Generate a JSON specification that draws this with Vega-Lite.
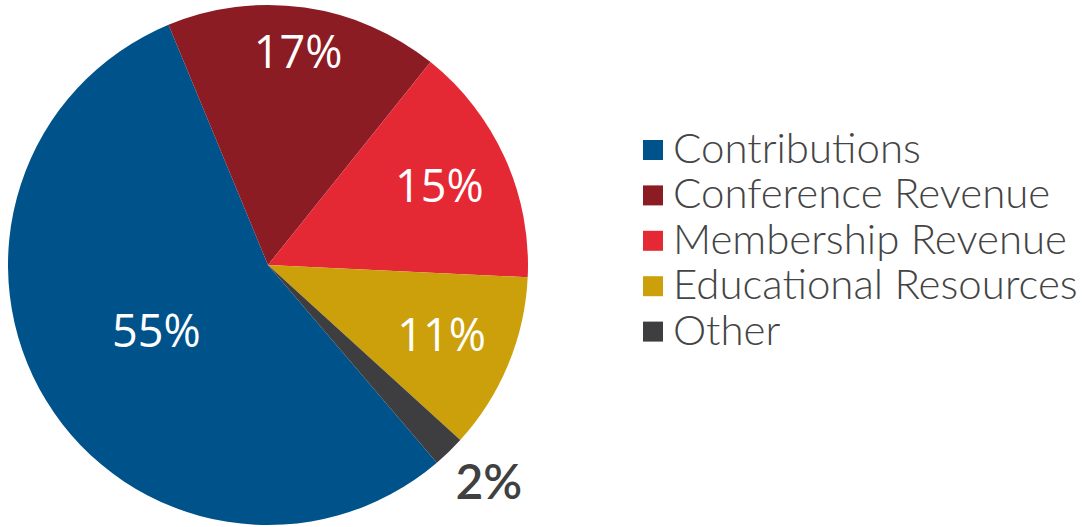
{
  "$schema": "https://vega.github.io/schema/vega-lite/v6.json",
  "width": 536,
  "height": 530,
  "padding": 0,
  "background": "white",
  "data": {
    "values": [
      {"category": "Contributions", "pct": 0.55, "rank": 1},
      {"category": "Conference Revenue", "pct": 0.17, "rank": 2},
      {"category": "Membership Revenue", "pct": 0.15, "rank": 3},
      {"category": "Educational Resources", "pct": 0.11, "rank": 4},
      {"category": "Other", "pct": 0.02, "rank": 5}
    ]
  },
  "encoding": {
    "theta": {"field": "pct", "type": "quantitative", "stack": true, "scale": {"range": [2.4347, 8.7179]}},
    "order": {"field": "rank", "type": "quantitative"}
  },
  "layer": [
    {
      "mark": {"type": "arc", "radius": 260, "stroke": null, "strokeWidth": 0},
      "encoding": {
        "color": {
          "field": "category",
          "type": "nominal",
          "sort": ["Contributions", "Conference Revenue", "Membership Revenue", "Educational Resources", "Other"],
          "scale": {
            "domain": ["Contributions", "Conference Revenue", "Membership Revenue", "Educational Resources", "Other"],
            "range": ["#00538a", "#8b1c24", "#e52934", "#cca00b", "#3e3e40"]
          },
          "legend": {
            "title": null,
            "orient": "none",
            "legendX": 632,
            "legendY": 129,
            "padding": 0,
            "symbolType": "square",
            "symbolSize": 400,
            "symbolStrokeWidth": 0,
            "symbolOpacity": 1,
            "labelFont": "Lato",
            "labelFontWeight": 300,
            "labelFontSize": 42,
            "labelColor": "#444444",
            "labelOffset": -1,
            "rowPadding": 3.4,
            "labelLimit": 600
          }
        }
      }
    },
    {
      "mark": {"type": "text", "radius": 213, "font": "Open Sans", "fontWeight": 400, "fontSize": 45, "color": "white", "align": "center", "baseline": "middle"},
      "encoding": {
        "text": {"field": "pct", "type": "quantitative", "format": ".0%"},
        "opacity": {"condition": {"test": "datum.category === 'Conference Revenue'", "value": 1}, "value": 0}
      }
    },
    {
      "mark": {"type": "text", "radius": 188, "font": "Open Sans", "fontWeight": 400, "fontSize": 45, "color": "white", "align": "center", "baseline": "middle"},
      "encoding": {
        "text": {"field": "pct", "type": "quantitative", "format": ".0%"},
        "opacity": {"condition": {"test": "datum.category === 'Membership Revenue' || datum.category === 'Educational Resources'", "value": 1}, "value": 0}
      }
    },
    {
      "mark": {"type": "text", "radius": 131, "font": "Open Sans", "fontWeight": 400, "fontSize": 45, "color": "white", "align": "center", "baseline": "middle"},
      "encoding": {
        "text": {"field": "pct", "type": "quantitative", "format": ".0%"},
        "opacity": {"condition": {"test": "datum.category === 'Contributions'", "value": 1}, "value": 0}
      }
    },
    {
      "mark": {"type": "text", "radius": 188, "dx": 90, "dy": 85, "font": "Lato", "fontWeight": 600, "fontSize": 48, "color": "#404040", "align": "center", "baseline": "middle"},
      "encoding": {
        "text": {"field": "pct", "type": "quantitative", "format": ".0%"},
        "opacity": {"condition": {"test": "datum.category === 'Other'", "value": 1}, "value": 0}
      }
    }
  ],
  "config": {"view": {"stroke": null}}
}
